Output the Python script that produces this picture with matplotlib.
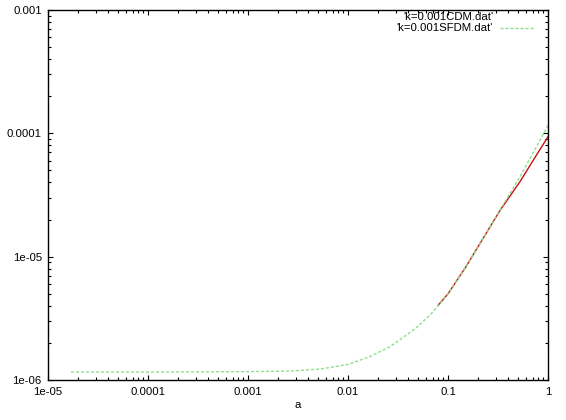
import matplotlib
matplotlib.use("Agg")
import matplotlib.pyplot as plt
from matplotlib.ticker import FixedLocator, FixedFormatter, LogLocator, NullFormatter

plt.rcParams['font.family'] = ['Liberation Sans', 'DejaVu Sans']

# scale factor a and power values
a_sfdm = [1.7e-5, 1e-4, 1e-3, 0.0026, 0.0054, 0.0101, 0.0166, 0.0263, 0.0405,
          0.0501, 0.0681, 0.083, 0.1, 0.15, 0.209, 0.331, 0.525, 0.7, 1.0]
p_sfdm = [1.16e-6, 1.16e-6, 1.17e-6, 1.18e-6, 1.23e-6, 1.34e-6, 1.55e-6, 1.86e-6,
          2.39e-6, 2.72e-6, 3.45e-6, 4.15e-6, 5.0e-6, 8.2e-6, 1.28e-5, 2.39e-5,
          4.45e-5, 6.8e-5, 1.16e-4]
a_cdm = [0.08, 0.1, 0.15, 0.209, 0.331, 0.525, 0.7, 1.0]
p_cdm = [4.05e-6, 5.0e-6, 8.2e-6, 1.28e-5, 2.37e-5, 4.06e-5, 5.92e-5, 9.4e-5]

labels = ["'k=0.001CDM.dat'", "'k=0.001SFDM.dat'"]
xticks = [1e-5, 1e-4, 1e-3, 1e-2, 1e-1, 1]
xticklabels = ['1e-05', '0.0001', '0.001', '0.01', '0.1', '1']
yticks = [1e-6, 1e-5, 1e-4, 1e-3]
yticklabels = ['1e-06', '1e-05', '0.0001', '0.001']

red = '#c81010'
green = '#8fdf8f'

fig = plt.figure(figsize=(5.66, 4.2), dpi=100)
ax = fig.add_axes([48/566, 1-380/420, 500/566, 370/420])

ax.plot(a_cdm, p_cdm, color=red, lw=1.0)
ax.plot(a_sfdm, p_sfdm, color=green, lw=1.0, dashes=(2.2, 1.4))

ax.set_xscale('log')
ax.set_yscale('log')
ax.set_xlim(1e-5, 1)
ax.set_ylim(1e-6, 1e-3)

ax.xaxis.set_major_locator(FixedLocator(xticks))
ax.xaxis.set_major_formatter(FixedFormatter(xticklabels))
ax.yaxis.set_major_locator(FixedLocator(yticks))
ax.yaxis.set_major_formatter(FixedFormatter(yticklabels))
ax.xaxis.set_minor_locator(LogLocator(base=10, subs=range(2, 10)))
ax.yaxis.set_minor_locator(LogLocator(base=10, subs=range(2, 10)))
ax.xaxis.set_minor_formatter(NullFormatter())
ax.yaxis.set_minor_formatter(NullFormatter())

ax.tick_params(which='both', direction='in', top=True, right=True, width=0.8,
               labelsize=8.2, colors='black')
ax.tick_params(which='major', length=3.4)
ax.tick_params(which='minor', length=2.0)
ax.tick_params(axis='y', pad=4.5)
ax.tick_params(axis='x', pad=5)
for s in ax.spines.values():
    s.set_linewidth(1.0)

ax.set_xlabel('a', fontsize=8.2, labelpad=2)

# gnuplot style key: text right aligned, sample on the right
ax.text(0.89, 0.981, labels[0], transform=ax.transAxes, ha='right', va='center', fontsize=8.2)
ax.text(0.89, 0.951, labels[1], transform=ax.transAxes, ha='right', va='center', fontsize=8.2)
ax.plot([0.904, 0.97], [0.951, 0.951], transform=ax.transAxes, color=green,
        lw=1.0, dashes=(2.2, 1.4))

fig.savefig('out.png', dpi=100)
